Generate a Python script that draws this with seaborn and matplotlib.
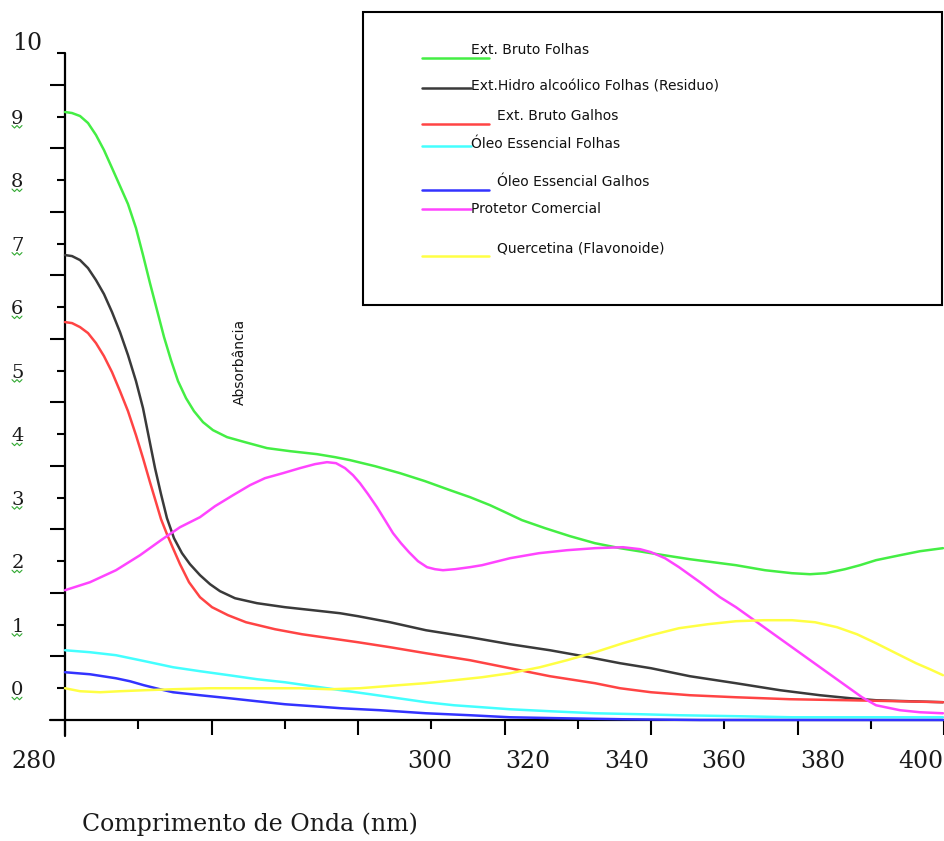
import numpy as np
import pandas as pd
import matplotlib
matplotlib.use("Agg")
import matplotlib.pyplot as plt
from matplotlib.lines import Line2D
from matplotlib.patches import Rectangle
import seaborn as sns

# ---------------- data ----------------
series_names = [
    "Ext. Bruto Folhas",
    "Ext.Hidro alcoólico Folhas (Residuo)",
    "Ext. Bruto Galhos",
    "Óleo Essencial Folhas",
    "Óleo Essencial Galhos",
    "Protetor Comercial",
    "Quercetina (Flavonoide)",
]
series_colors = ["#44ee44", "#3a3a3a", "#ff4444", "#44ffff", "#3333ff", "#ff44ff", "#ffff44"]

bruto_folhas_x = [280.00, 280.96, 282.05, 283.14, 284.23, 285.32, 286.42, 287.51, 288.60, 289.69,
                  290.65, 291.60, 292.56, 293.52, 294.47, 295.43, 296.52, 297.61, 298.84, 300.20,
                  302.12, 304.57, 307.58, 310.72, 314.40, 316.86, 318.91, 322.32, 325.73, 329.15,
                  332.56, 335.29, 338.02, 340.07, 342.39, 345.53, 348.94, 352.36, 355.77, 360.00,
                  365.32, 371.60, 375.56, 379.25, 381.71, 383.89, 386.48, 388.53, 390.72, 393.99,
                  396.72, 399.86]
bruto_folhas_y = [9.071, 9.055, 9.008, 8.898, 8.709, 8.472, 8.189, 7.906, 7.622, 7.244,
                  6.819, 6.378, 5.953, 5.528, 5.165, 4.835, 4.567, 4.362, 4.189, 4.063,
                  3.953, 3.874, 3.780, 3.732, 3.685, 3.638, 3.591, 3.496, 3.386, 3.260,
                  3.118, 3.008, 2.882, 2.772, 2.646, 2.520, 2.394, 2.283, 2.205, 2.126,
                  2.031, 1.937, 1.858, 1.811, 1.795, 1.811, 1.874, 1.937, 2.016, 2.094,
                  2.157, 2.205]

hidro_folhas_x = [280.00, 280.96, 282.05, 283.14, 284.23, 285.32, 286.42, 287.51, 288.60, 289.69,
                  290.65, 291.47, 292.29, 293.11, 293.92, 294.88, 295.97, 297.06, 298.43, 299.80,
                  301.16, 303.21, 306.21, 310.03, 313.86, 317.54, 320.00, 324.37, 329.28, 335.29,
                  340.75, 346.21, 351.54, 355.77, 360.00, 365.32, 371.60, 377.61, 383.07, 387.17,
                  390.72, 395.36, 399.86]
hidro_folhas_y = [6.819, 6.803, 6.740, 6.614, 6.425, 6.205, 5.921, 5.606, 5.244, 4.835,
                  4.409, 3.937, 3.465, 3.055, 2.677, 2.362, 2.126, 1.953, 1.780, 1.638,
                  1.528, 1.417, 1.339, 1.276, 1.228, 1.181, 1.134, 1.039, 0.913, 0.803,
                  0.693, 0.598, 0.488, 0.394, 0.315, 0.189, 0.079, -0.031, -0.110, -0.157,
                  -0.189, -0.205, -0.220]

bruto_galhos_x = [280.00, 280.96, 282.05, 283.14, 284.23, 285.32, 286.42, 287.51, 288.60, 289.69,
                  290.65, 291.60, 292.42, 293.11, 293.92, 294.74, 295.70, 296.93, 298.43, 300.07,
                  302.25, 304.71, 308.67, 312.36, 316.18, 320.00, 324.37, 329.28, 335.29, 340.75,
                  346.21, 352.36, 355.77, 360.00, 365.32, 371.60, 378.98, 386.89, 394.00, 399.86]
bruto_galhos_y = [5.764, 5.748, 5.685, 5.591, 5.433, 5.228, 4.976, 4.677, 4.362, 3.984,
                  3.622, 3.244, 2.929, 2.661, 2.425, 2.205, 1.953, 1.669, 1.433, 1.276,
                  1.150, 1.039, 0.929, 0.850, 0.787, 0.724, 0.646, 0.551, 0.441, 0.315,
                  0.189, 0.079, 0.000, -0.063, -0.110, -0.142, -0.173, -0.189, -0.205, -0.220]

oleo_folhas_x = [280.00, 283.41, 286.96, 290.92, 294.74, 298.43, 302.39, 306.21, 310.03, 313.86,
                 317.68, 321.64, 325.46, 329.28, 333.11, 336.93, 340.75, 346.21, 352.36, 358.50,
                 363.82, 372.15, 379.25, 399.86]
oleo_folhas_y = [0.598, 0.567, 0.520, 0.425, 0.331, 0.268, 0.205, 0.142, 0.094, 0.031,
                 -0.031, -0.094, -0.157, -0.220, -0.268, -0.299, -0.331, -0.362, -0.394, -0.409,
                 -0.425, -0.441, -0.457, -0.457]

oleo_galhos_x = [280.00, 283.41, 286.96, 288.87, 290.78, 292.97, 294.74, 298.43, 302.39, 306.21,
                 310.03, 313.86, 317.68, 323.00, 329.28, 335.29, 340.75, 347.58, 356.18, 366.69,
                 399.86]
oleo_galhos_y = [0.252, 0.220, 0.157, 0.110, 0.047, -0.016, -0.063, -0.110, -0.157, -0.205,
                 -0.252, -0.283, -0.315, -0.346, -0.394, -0.425, -0.457, -0.472, -0.488, -0.500,
                 -0.500]

protetor_x = [280.00, 283.41, 286.96, 290.24, 293.11, 295.70, 298.43, 300.48, 302.94, 305.26,
              307.30, 309.76, 312.08, 314.13, 315.77, 317.00, 318.23, 319.32, 320.27, 321.37,
              322.59, 323.69, 324.78, 325.87, 326.96, 328.19, 329.42, 330.51, 331.60, 333.24,
              335.29, 336.93, 340.75, 344.71, 348.53, 352.36, 356.18, 358.50, 360.00, 361.91,
              363.82, 366.69, 369.42, 371.60, 375.43, 379.25, 383.07, 386.89, 388.81, 390.72,
              393.99, 396.72, 399.86]
protetor_y = [1.543, 1.669, 1.858, 2.094, 2.331, 2.535, 2.693, 2.866, 3.039, 3.197,
              3.307, 3.386, 3.465, 3.528, 3.559, 3.543, 3.465, 3.354, 3.228, 3.055,
              2.850, 2.646, 2.441, 2.283, 2.142, 2.000, 1.906, 1.874, 1.858, 1.874,
              1.906, 1.937, 2.047, 2.126, 2.173, 2.205, 2.220, 2.189, 2.142, 2.047,
              1.906, 1.669, 1.433, 1.276, 0.961, 0.646, 0.331, 0.016, -0.142, -0.268,
              -0.346, -0.378, -0.394]

quercetina_x = [280.00, 282.05, 284.78, 287.51, 290.92, 294.74, 299.80, 306.21, 312.08, 316.18,
                320.27, 325.46, 329.15, 333.11, 336.93, 340.75, 344.85, 348.53, 352.36, 356.18,
                360.00, 363.82, 367.78, 371.60, 375.43, 379.25, 382.39, 385.39, 388.12, 390.72,
                393.45, 396.18, 398.09, 399.86]
quercetina_y = [0.000, -0.047, -0.063, -0.047, -0.031, -0.016, 0.000, 0.000, 0.000, -0.016,
                0.000, 0.047, 0.079, 0.126, 0.173, 0.236, 0.331, 0.441, 0.567, 0.709,
                0.835, 0.945, 1.008, 1.055, 1.071, 1.071, 1.039, 0.961, 0.850, 0.709,
                0.551, 0.394, 0.299, 0.205]

x_tick_values = [280, 300, 320, 340, 360, 380, 400]
x_tick_labels = ["280", "300", "320", "340", "360", "380", "400"]
# where the labels actually sit (they are not under their ticks in the original)
x_label_anchor = [275.8, 329.8, 343.2, 356.7, 370.0, 383.4, 396.9]
y_tick_values = [0, 1, 2, 3, 4, 5, 6, 7, 8, 9, 10]
y_tick_labels = ["0", "1", "2", "3", "4", "5", "6", "7", "8", "9", ""]

xs = [bruto_folhas_x, hidro_folhas_x, bruto_galhos_x, oleo_folhas_x, oleo_galhos_x, protetor_x, quercetina_x]
ys = [bruto_folhas_y, hidro_folhas_y, bruto_galhos_y, oleo_folhas_y, oleo_galhos_y, protetor_y, quercetina_y]
frames = []
for name, x, y in zip(series_names, xs, ys):
    frames.append(pd.DataFrame({"wl": x, "abs": y, "serie": name}))
df = pd.concat(frames, ignore_index=True)

# ---------------- figure ----------------
sns.set_theme(style="white")
plt.rcParams["font.family"] = ["DejaVu Sans"]

W, H = 945, 841
fig = plt.figure(figsize=(W / 100, H / 100), dpi=100)
ax = fig.add_axes([65 / W, 1 - 720 / H, 879 / W, 667 / H])
ax.set_facecolor("white")

palette = dict(zip(series_names, series_colors))
sns.lineplot(data=df, x="wl", y="abs", hue="serie", palette=palette, estimator=None,
             sort=False, units="serie", legend=False, linewidth=1.8, ax=ax)
for ln in ax.get_lines():
    ln.set_clip_on(False)
    ln.set_solid_joinstyle("round")

ax.set_xlim(280, 400)
ax.set_ylim(-0.5, 10)
ax.set_xlabel("")
ax.set_ylabel("")
for s in ax.spines.values():
    s.set_visible(False)

ax.set_xticks(x_tick_values)
ax.set_xticks(np.arange(290, 400, 20), minor=True)
ax.set_xticklabels([])
ax.set_yticks(y_tick_values)
ax.set_yticks(np.arange(0.5, 10, 1), minor=True)
ax.set_yticklabels(y_tick_labels, fontfamily="DejaVu Serif", fontsize=14, color="#1a1a1a")
ax.tick_params(axis="x", which="major", direction="out", length=10.8, width=1.5, color="black", bottom=True)
ax.tick_params(axis="x", which="minor", direction="out", length=6.3, width=1.5, color="black", bottom=True)
ax.tick_params(axis="y", which="major", direction="out", length=5.8, width=1.5, color="black", left=True, pad=24)
ax.tick_params(axis="y", which="minor", direction="out", length=10.8, width=1.5, color="black", left=True)
ax.grid(False)

# axis lines that overshoot each other
ax.add_line(Line2D([-15 / 879, 1], [0, 0], transform=ax.transAxes, color="black", lw=1.6, clip_on=False, zorder=1))
ax.add_line(Line2D([0, 0], [-16 / 667, 1], transform=ax.transAxes, color="black", lw=1.6, clip_on=False, zorder=1))

# small green wavy underlines below the y tick digits (as in the original)
for v in y_tick_values[:-1]:
    py = ax.transData.transform((280, v))[1]
    yy = (py - 9) / H
    wave_x = np.array([12, 14.5, 17, 19.5, 22]) / W
    wave_y = yy + np.array([0, -2.5, 0, -2.5, 0]) / H
    fig.lines.append(Line2D(wave_x, wave_y, transform=fig.transFigure, color="#33aa33", lw=0.8))

# x tick labels at their (displaced) positions
trans = ax.get_xaxis_transform()
for lab, xa in zip(x_tick_labels, x_label_anchor):
    ax.text(xa, -42 / 667, lab, transform=trans, ha="center", va="center",
            fontfamily="DejaVu Serif", fontsize=17, color="#1a1a1a", clip_on=False)

fig.text(27 / W, 1 - 43 / H, "10", ha="center", va="center", fontfamily="DejaVu Serif",
         fontsize=17, color="#1a1a1a")
fig.text(82 / W, 1 - 831 / H, "Comprimento de Onda (nm)", ha="left", va="baseline",
         fontfamily="DejaVu Serif", fontsize=17, color="#1a1a1a")
fig.text(240 / W, 1 - 362 / H, "Absorbância", rotation=90, ha="center", va="center",
         fontsize=10, color="#111111")

# legend box drawn by hand (entries are irregularly placed in the original)
fig.patches.append(Rectangle((363 / W, 1 - 305 / H), 579 / W, 293 / H, transform=fig.transFigure,
                             fill=False, lw=1.5, ec="black"))
leg_line_end = [489, 471, 489, 471, 489, 471, 489]
leg_line_y = [58, 88, 124, 146, 190, 209, 256]
leg_text_x = [471, 471, 497, 471, 497, 471, 497]
leg_text_y = [50, 87, 116, 144, 182, 209, 248]
for name, col, xe, ly, tx, ty in zip(series_names, series_colors, leg_line_end, leg_line_y, leg_text_x, leg_text_y):
    fig.lines.append(Line2D([422 / W, xe / W], [1 - ly / H, 1 - ly / H], transform=fig.transFigure,
                            color=col, lw=1.8))
    fig.text(tx / W, 1 - ty / H, name, ha="left", va="center", fontsize=10, color="#111111")

fig.savefig("out.png", dpi=100, facecolor="white")
